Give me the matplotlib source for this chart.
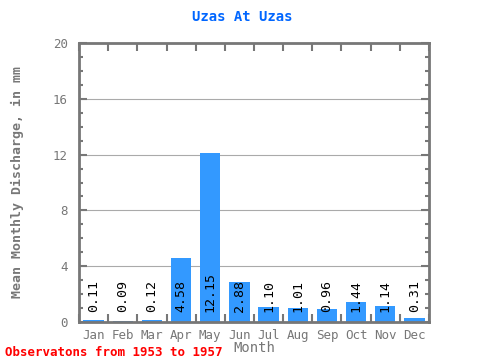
import matplotlib
matplotlib.use("Agg")
import matplotlib.pyplot as plt
import numpy as np

months = ["Jan", "Feb", "Mar", "Apr", "May", "Jun", "Jul", "Aug", "Sep", "Oct", "Nov", "Dec"]
values = [0.11, 0.09, 0.12, 4.58, 12.15, 2.88, 1.10, 1.01, 0.96, 1.44, 1.14, 0.31]
labels = ["0.11", "0.09", "0.12", "4.58", "12.15", "2.88", "1.10", "1.01", "0.96", "1.44", "1.14", "0.31"]
yticks = [0, 4, 8, 12, 16, 20]

mono = "DejaVu Sans Mono"
gray = "#777777"

fig = plt.figure(figsize=(4.8, 3.6), dpi=100)
ax = fig.add_axes([79/480, 1-322/360, 350/480, 279/360])

x = np.arange(len(months))
ax.bar(x, values, width=0.7, color="#3399ff", zorder=2)
for xi, lab in zip(x, labels):
    ax.text(xi, 0.7, lab, rotation=90, ha="center", va="bottom",
            fontsize=9.5, family=mono, color="black", zorder=3)

ax.set_xlim(-0.5, 11.5)
ax.set_ylim(0, 20)
ax.set_yticks(yticks)
ax.set_yticks(np.arange(0, 21, 1), minor=True)
ax.set_yticklabels([str(t) for t in yticks], family=mono, fontsize=9, color=gray)
ax.set_xticks(x)
ax.set_xticklabels(months, family=mono, fontsize=9, color=gray)
ax.set_xticks(np.arange(-0.5, 12, 1), minor=True)
for t in [4, 8, 12, 16]:
    ax.axhline(t, color="#aaaaaa", lw=0.8, zorder=1)

ax.tick_params(axis="x", which="major", length=0, pad=5)
ax.tick_params(axis="x", which="minor", direction="in", length=6, width=1.5, color=gray, top=True, bottom=True)
ax.tick_params(axis="y", which="major", direction="in", length=6, width=1.5, color=gray, left=True, right=True, pad=8)
ax.tick_params(axis="y", which="minor", direction="in", length=3, width=1.5, color=gray, left=True, right=True)
for s in ax.spines.values():
    s.set_color(gray)
    s.set_linewidth(2)

ax.set_ylabel("Mean Monthly Discharge, in mm", family=mono, fontsize=9.5, fontweight="bold", color=gray)
ax.yaxis.set_label_coords(-0.157, 0.5)
ax.set_xlabel("Month", family=mono, fontsize=10, color=gray)
ax.xaxis.set_label_coords(0.5, -0.068)

fig.text(242/480, 1-17/360, "Uzas At Uzas", ha="center", va="center", family=mono,
         fontsize=10, fontweight="bold", color="#0066ff")
fig.text(5/480, 1-352/360, "Observatons from 1953 to 1957", ha="left", va="center", family=mono,
         fontsize=9, fontweight="bold", color="red")

fig.savefig("out.png", dpi=100)
